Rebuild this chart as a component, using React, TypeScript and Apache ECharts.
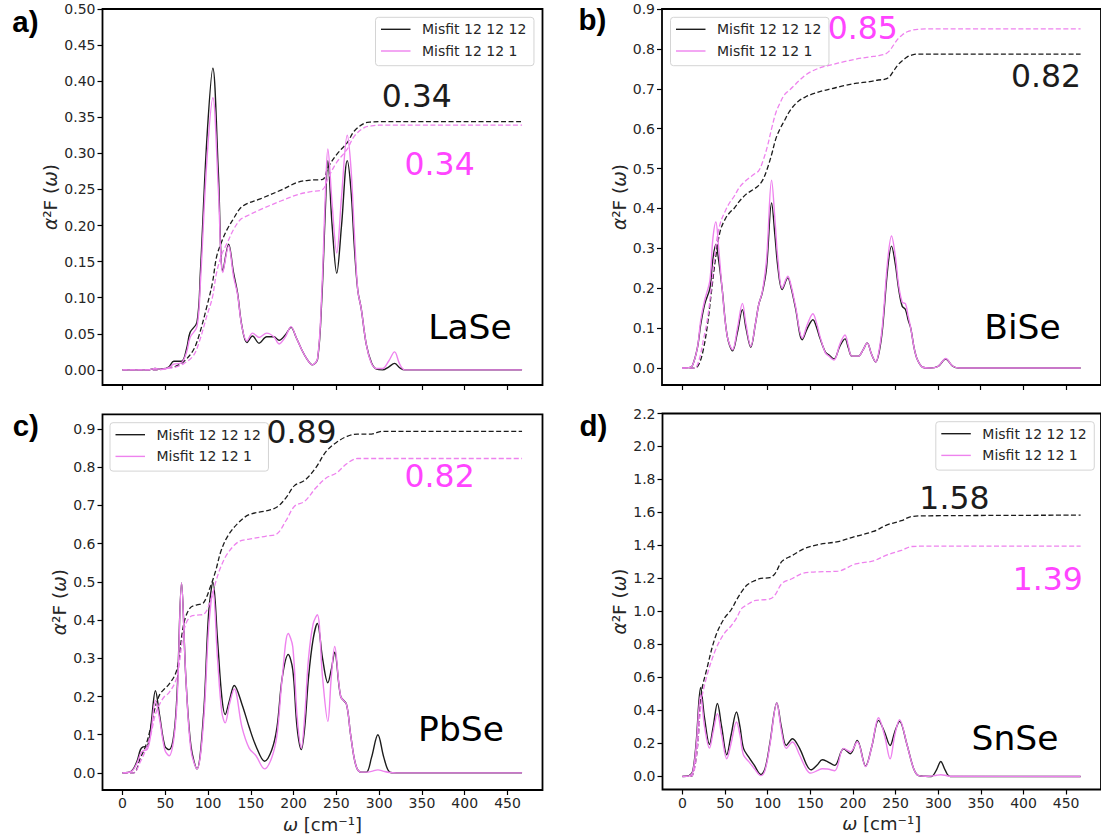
import React, { useEffect, useRef } from "react";
import * as echarts from "echarts";

// ---------- tick labels ----------
const X_TICKS = [0, 50, 100, 150, 200, 250, 300, 350, 400, 450];
const A_Y_TICKS = [0, 0.05, 0.1, 0.15, 0.2, 0.25, 0.3, 0.35, 0.4, 0.45, 0.5];
const B_Y_TICKS = [0, 0.1, 0.2, 0.3, 0.4, 0.5, 0.6, 0.7, 0.8, 0.9];
const C_Y_TICKS = [0, 0.1, 0.2, 0.3, 0.4, 0.5, 0.6, 0.7, 0.8, 0.9];
const D_Y_TICKS = [0, 0.2, 0.4, 0.6, 0.8, 1.0, 1.2, 1.4, 1.6, 1.8, 2.0, 2.2];

const LEGEND_NAMES = ["Misfit 12 12 12", "Misfit 12 12 1"];

// ---------- a) LaSe ----------
const aSpecX = [0, 30, 38, 46, 54, 60, 69, 75, 79, 87, 91, 98.6, 105.6, 112, 117.3, 124, 129.7, 134.4, 139.5, 145.4, 152, 159.6, 168.6, 176.8, 183, 190, 197, 203, 209.5, 215.6, 221.8, 228, 233, 237, 240, 245, 250.4, 256, 262.7, 267, 271, 275, 279, 285, 291, 297, 304, 311, 318, 324, 330, 467];
const aSpecBlack = [0, 0, 0.002, 0.001, 0.004, 0.012, 0.012, 0.03, 0.052, 0.066, 0.135, 0.32, 0.418, 0.274, 0.137, 0.174, 0.135, 0.107, 0.061, 0.038, 0.047, 0.037, 0.046, 0.046, 0.041, 0.048, 0.059, 0.045, 0.028, 0.015, 0.007, 0.015, 0.1, 0.22, 0.29, 0.2, 0.134, 0.2, 0.29, 0.25, 0.17, 0.11, 0.085, 0.035, 0.01, 0.001, 0, 0.004, 0.009, 0.003, 0, 0];
const aSpecPink = [0, 0, 0.002, 0.001, 0.003, 0.008, 0.01, 0.025, 0.045, 0.06, 0.12, 0.29, 0.377, 0.25, 0.135, 0.172, 0.13, 0.105, 0.06, 0.04, 0.051, 0.045, 0.051, 0.046, 0.036, 0.045, 0.06, 0.045, 0.028, 0.015, 0.007, 0.016, 0.11, 0.24, 0.306, 0.23, 0.162, 0.24, 0.325, 0.28, 0.19, 0.11, 0.085, 0.035, 0.009, 0.002, 0.002, 0.012, 0.025, 0.008, 0, 0];
const aCumX = [0, 40, 52, 62, 72, 83, 90, 98.6, 105, 110, 116, 122, 130, 137.6, 145, 161, 185, 205, 220, 234, 240, 250, 262.7, 271, 283, 291, 300, 467];
const aCumBlack = [0, 0, 0.003, 0.005, 0.012, 0.028, 0.05, 0.088, 0.12, 0.157, 0.178, 0.194, 0.21, 0.224, 0.23, 0.237, 0.249, 0.26, 0.263, 0.264, 0.28, 0.298, 0.315, 0.331, 0.342, 0.3435, 0.344, 0.344];
const aCumPink = [0, 0, 0.002, 0.004, 0.009, 0.02, 0.04, 0.075, 0.1, 0.135, 0.16, 0.175, 0.195, 0.208, 0.213, 0.222, 0.234, 0.243, 0.247, 0.25, 0.265, 0.287, 0.306, 0.324, 0.336, 0.338, 0.339, 0.339];

// ---------- b) BiSe ----------
const bSpecX = [0, 8, 12, 18, 22, 26.6, 32.7, 36, 39.7, 43, 47, 53, 59.3, 65, 70.8, 75, 80.6, 86, 90, 94, 99, 105, 109, 112.5, 117.4, 124, 128, 133, 141, 147, 153.4, 158, 161.6, 168, 172, 178, 185, 191, 195, 199, 206.6, 212, 217, 222, 227, 231, 235, 241, 245.5, 250, 253.7, 258, 261.8, 265, 268, 272, 276, 282, 290, 300, 309, 317, 325, 467];
const bSpecBlack = [0, 0.001, 0.005, 0.05, 0.11, 0.16, 0.2, 0.27, 0.31, 0.27, 0.2, 0.08, 0.0435, 0.09, 0.1465, 0.1, 0.052, 0.11, 0.16, 0.188, 0.25, 0.414, 0.33, 0.25, 0.197, 0.226, 0.2, 0.15, 0.071, 0.1, 0.121, 0.1, 0.075, 0.04, 0.033, 0.0226, 0.055, 0.073, 0.05, 0.03, 0.03, 0.045, 0.063, 0.035, 0.015, 0.04, 0.1, 0.25, 0.3056, 0.26, 0.2, 0.155, 0.147, 0.12, 0.1, 0.05, 0.02, 0.002, 0, 0.004, 0.0226, 0.005, 0, 0];
const bSpecPink = [0, 0.001, 0.005, 0.05, 0.12, 0.17, 0.22, 0.32, 0.366, 0.3, 0.2, 0.08, 0.046, 0.1, 0.162, 0.11, 0.054, 0.11, 0.16, 0.19, 0.27, 0.471, 0.37, 0.27, 0.2, 0.23, 0.205, 0.155, 0.075, 0.11, 0.136, 0.11, 0.08, 0.038, 0.03, 0.02, 0.06, 0.083, 0.055, 0.03, 0.03, 0.045, 0.063, 0.035, 0.015, 0.045, 0.11, 0.27, 0.331, 0.28, 0.21, 0.165, 0.161, 0.13, 0.1, 0.05, 0.02, 0.002, 0, 0.004, 0.024, 0.005, 0, 0];
const bCumX = [0, 10, 15, 20, 25, 30, 35, 40, 45, 51, 56, 61, 68, 76, 84, 90, 95, 100, 105, 110, 115, 120, 125, 130, 137, 145, 153, 165, 175, 190, 205, 220, 230, 238, 243, 248, 253, 258, 264, 270, 276, 285, 300, 467];
const bCumBlack = [0, 0, 0, 0.01, 0.046, 0.11, 0.2, 0.285, 0.345, 0.375, 0.39, 0.4, 0.42, 0.437, 0.448, 0.458, 0.473, 0.5, 0.535, 0.575, 0.6, 0.62, 0.64, 0.655, 0.67, 0.68, 0.687, 0.695, 0.7, 0.708, 0.714, 0.718, 0.722, 0.724, 0.73, 0.745, 0.76, 0.77, 0.78, 0.785, 0.787, 0.787, 0.787, 0.787];
const bCumPink = [0, 0, 0, 0.02, 0.07, 0.125, 0.213, 0.31, 0.364, 0.395, 0.415, 0.43, 0.455, 0.472, 0.485, 0.495, 0.52, 0.555, 0.6, 0.64, 0.665, 0.685, 0.695, 0.705, 0.72, 0.735, 0.745, 0.755, 0.76, 0.768, 0.775, 0.78, 0.783, 0.787, 0.795, 0.81, 0.825, 0.835, 0.843, 0.847, 0.849, 0.85, 0.85, 0.85];

// ---------- c) PbSe ----------
const cSpecX = [0, 10.6, 16.8, 21, 24, 29, 33, 38.5, 43.4, 49.5, 54.5, 60, 64, 69, 74, 80, 87, 94.6, 100.7, 105.7, 111, 116, 120, 125, 130.6, 139.6, 148, 156, 166, 174.4, 180.6, 186.7, 193.7, 199, 204, 209, 213, 217.4, 222.8, 227.7, 233.8, 240, 244, 248, 255, 261.7, 266.6, 272.7, 278.9, 285, 291, 298.5, 305.5, 312.4, 320, 467];
const cSpecBlack = [0, 0.005, 0.03, 0.061, 0.068, 0.07, 0.12, 0.215, 0.15, 0.07, 0.061, 0.1, 0.22, 0.497, 0.25, 0.07, 0.0105, 0.15, 0.42, 0.499, 0.35, 0.2, 0.153, 0.19, 0.229, 0.18, 0.12, 0.07, 0.0305, 0.06, 0.12, 0.25, 0.31, 0.27, 0.12, 0.061, 0.12, 0.25, 0.35, 0.391, 0.3, 0.236, 0.27, 0.316, 0.2, 0.18, 0.1, 0.02, 0.002, 0.002, 0.04, 0.1, 0.04, 0.002, 0, 0];
const cSpecPink = [0, 0.004, 0.025, 0.05, 0.058, 0.062, 0.1, 0.19, 0.14, 0.06, 0.045, 0.09, 0.2, 0.497, 0.25, 0.06, 0.0105, 0.13, 0.38, 0.475, 0.3, 0.16, 0.131, 0.18, 0.22, 0.12, 0.065, 0.045, 0.0105, 0.04, 0.1, 0.25, 0.365, 0.33, 0.15, 0.065, 0.15, 0.3, 0.39, 0.414, 0.25, 0.135, 0.25, 0.331, 0.2, 0.18, 0.1, 0.02, 0.002, 0.002, 0.004, 0.008, 0.004, 0.001, 0, 0];
const cCumX = [0, 12.7, 21, 27, 33, 38, 43.4, 49, 54, 62, 66, 70, 74, 80, 87, 94.6, 102.8, 109, 115, 123, 135.5, 148, 168, 180.6, 191, 201, 213, 225.6, 238, 250, 262.5, 274.8, 291, 303, 467];
const cCumBlack = [0, 0, 0.04, 0.07, 0.12, 0.17, 0.205, 0.22, 0.231, 0.26, 0.3, 0.37, 0.41, 0.434, 0.44, 0.445, 0.488, 0.53, 0.58, 0.62, 0.655, 0.676, 0.686, 0.696, 0.72, 0.752, 0.766, 0.798, 0.8415, 0.865, 0.881, 0.887, 0.887, 0.894, 0.894];
const cCumPink = [0, 0, 0.03, 0.06, 0.1, 0.15, 0.18, 0.2, 0.209, 0.24, 0.28, 0.35, 0.39, 0.41, 0.413, 0.415, 0.45, 0.5, 0.54, 0.575, 0.605, 0.612, 0.62, 0.626, 0.66, 0.698, 0.711, 0.745, 0.772, 0.785, 0.81, 0.823, 0.823, 0.823, 0.823];

// ---------- d) SnSe ----------
const dSpecX = [0, 7.8, 12, 16, 21.4, 26, 31.7, 36, 41, 46, 52, 57, 63.4, 67.5, 71.6, 77.8, 84, 92, 97, 102.5, 110.7, 116, 121.8, 129, 137.4, 145.7, 150.6, 158, 164, 170, 178.6, 189, 197, 205, 214.8, 222, 230, 237, 243.6, 249, 254.7, 263, 271, 277, 285, 292, 298, 303, 308, 314, 467];
const dSpecBlack = [0, 0.005, 0.03, 0.2, 0.539, 0.35, 0.194, 0.3, 0.442, 0.3, 0.132, 0.25, 0.391, 0.3, 0.17, 0.117, 0.07, 0.012, 0.05, 0.2, 0.446, 0.3, 0.188, 0.229, 0.17, 0.07, 0.0405, 0.07, 0.101, 0.09, 0.067, 0.168, 0.138, 0.219, 0.063, 0.18, 0.34, 0.27, 0.188, 0.27, 0.334, 0.2, 0.05, 0.005, 0.001, 0, 0.04, 0.091, 0.04, 0, 0];
const dSpecPink = [0, 0.004, 0.025, 0.18, 0.492, 0.3, 0.172, 0.27, 0.381, 0.25, 0.107, 0.2, 0.33, 0.25, 0.13, 0.09, 0.05, 0.005, 0.04, 0.19, 0.446, 0.28, 0.17, 0.209, 0.13, 0.04, 0.02, 0.035, 0.0466, 0.045, 0.035, 0.17, 0.15, 0.21, 0.06, 0.18, 0.356, 0.25, 0.107, 0.25, 0.344, 0.2, 0.05, 0.005, 0.001, 0.002, 0.007, 0.01, 0.007, 0.001, 0];
const dCumX = [0, 10, 14, 18, 22, 28.4, 38.7, 49, 57, 63.4, 69.5, 75.7, 84, 92, 102.5, 108.6, 116.9, 129, 141.6, 158, 182.7, 203, 224, 240, 256.8, 269, 290, 467];
const dCumBlack = [0, 0, 0.05, 0.2, 0.5, 0.648, 0.847, 0.958, 1.009, 1.07, 1.12, 1.16, 1.185, 1.2, 1.205, 1.23, 1.305, 1.34, 1.378, 1.404, 1.424, 1.455, 1.485, 1.525, 1.55, 1.576, 1.58, 1.584];
const dCumPink = [0, 0, 0.04, 0.2, 0.45, 0.604, 0.766, 0.867, 0.912, 0.96, 1.019, 1.04, 1.065, 1.07, 1.076, 1.1, 1.171, 1.2, 1.232, 1.24, 1.245, 1.288, 1.307, 1.343, 1.37, 1.394, 1.396, 1.396];

// ---------- annotations ----------
const aNotes = ["0.34", "0.34", "LaSe"];
const bNotes = ["0.85", "0.82", "BiSe"];
const cNotes = ["0.89", "0.82", "PbSe"];
const dNotes = ["1.58", "1.39", "SnSe"];
const PANEL_LETTERS = ["a)", "b)", "c)", "d)"];

const BLACK = "#1c1c1c";
const PINK = "#ee82ee";
const MAGENTA = "#ff45ff";
const FONT = "DejaVu Sans";

const zip = (xs: number[], ys: number[]) => xs.map((x, i) => [x, ys[i]]);

const panels = [
  {
    grid: { left: 102.5, top: 9, width: 440, height: 376 },
    yMin: -0.0209, yMax: 0.5, yTicks: A_Y_TICKS, dec: 2, showX: false, nameGap: 35,
    spec: [aSpecX, aSpecBlack, aSpecPink], cum: [aCumX, aCumBlack, aCumPink],
    legend: { left: 375.5, top: 17.3 },
    notes: aNotes,
    notePos: [[416.8, 96, BLACK, 31.5], [439.6, 164, MAGENTA, 31.5], [470, 327, "#000", 34.5]],
    letterPos: [25.4, 21.7],
  },
  {
    grid: { left: 662, top: 9, width: 441, height: 376 },
    yMin: -0.0425, yMax: 0.9, yTicks: B_Y_TICKS, dec: 1, showX: false, nameGap: 31,
    spec: [bSpecX, bSpecBlack, bSpecPink], cum: [bCumX, bCumBlack, bCumPink],
    legend: { left: 670.5, top: 17.3 },
    notes: bNotes,
    notePos: [[862.8, 28, MAGENTA, 31.5], [1046, 76, BLACK, 31.5], [1022.5, 327, "#000", 34.5]],
    letterPos: [592.5, 19.2],
  },
  {
    grid: { left: 102.5, top: 414.3, width: 440, height: 375.7 },
    yMin: -0.0447, yMax: 0.9387, yTicks: C_Y_TICKS, dec: 1, showX: true, nameGap: 28.5,
    spec: [cSpecX, cSpecBlack, cSpecPink], cum: [cCumX, cCumBlack, cCumPink],
    legend: { left: 110, top: 422.7 },
    notes: cNotes,
    notePos: [[301.5, 432, BLACK, 31.5], [439.6, 476, MAGENTA, 31.5], [461, 729, "#000", 34.5]],
    letterPos: [25.8, 425],
  },
  {
    grid: { left: 662.5, top: 413.5, width: 441, height: 376 },
    yMin: -0.079, yMax: 2.2, yTicks: D_Y_TICKS, dec: 1, showX: true, nameGap: 26.5,
    spec: [dSpecX, dSpecBlack, dSpecPink], cum: [dCumX, dCumBlack, dCumPink],
    legend: { left: 935.8, top: 421.7 },
    notes: dNotes,
    notePos: [[954.4, 497.5, BLACK, 31.5], [1047.7, 579, MAGENTA, 31.5], [1015, 737.7, "#000", 34.5]],
    letterPos: [593.4, 425],
  },
];

function buildOption() {
  const grid: any[] = [];
  const xAxis: any[] = [];
  const yAxis: any[] = [];
  const series: any[] = [];
  const legend: any[] = [];
  const graphic: any[] = [];

  panels.forEach((p, i) => {
    grid.push({
      ...p.grid,
      show: true,
      borderColor: "#000",
      borderWidth: 1.8,
      backgroundColor: "transparent",
    });
    xAxis.push({
      type: "value",
      gridIndex: i,
      position: "bottom",
      min: -23.4,
      max: 490.9,
      axisLine: { show: false, onZero: false },
      splitLine: { show: false },
      axisTick: {
        show: true,
        length: 5,
        customValues: X_TICKS,
        lineStyle: { color: "#000", width: 1.2 },
      },
      axisLabel: {
        show: p.showX,
        customValues: X_TICKS,
        margin: 6,
        fontFamily: FONT,
        fontSize: 14,
        color: "#262626",
      },
      name: p.showX ? "{i|ω} [cm⁻¹]" : "",
      nameLocation: "middle",
      nameGap: 25,
      nameTextStyle: {
        fontFamily: FONT,
        fontSize: 18,
        color: "#262626",
        rich: { i: { fontFamily: FONT, fontStyle: "italic", fontSize: 18, color: "#262626" } },
      },
    });
    yAxis.push({
      type: "value",
      gridIndex: i,
      position: "left",
      min: p.yMin,
      max: p.yMax,
      axisLine: { show: false, onZero: false },
      splitLine: { show: false },
      axisTick: {
        show: true,
        length: 5,
        customValues: p.yTicks,
        lineStyle: { color: "#000", width: 1.2 },
      },
      axisLabel: {
        customValues: p.yTicks,
        margin: 7,
        fontFamily: FONT,
        fontSize: 14,
        color: "#262626",
        formatter: (v: number) => v.toFixed(p.dec),
      },
      name: "{i|α}²F ({i|ω})",
      nameLocation: "middle",
      nameGap: p.nameGap,
      nameTextStyle: {
        fontFamily: FONT,
        fontSize: 18.5,
        color: "#262626",
        rich: { i: { fontFamily: FONT, fontStyle: "italic", fontSize: 18.5, color: "#262626" } },
      },
    });

    const [sx, sb, sp] = p.spec;
    const [cx, cb, cp] = p.cum;
    const common = {
      type: "line",
      xAxisIndex: i,
      yAxisIndex: i,
      symbol: "none",
      smooth: 0.35,
      silent: true,
    };
    series.push({ ...common, name: LEGEND_NAMES[0], data: zip(sx, sb), lineStyle: { color: BLACK, width: 1.4 }, itemStyle: { color: BLACK }, z: 3 });
    series.push({ ...common, name: LEGEND_NAMES[1], data: zip(sx, sp), lineStyle: { color: PINK, width: 1.4 }, itemStyle: { color: PINK }, z: 4 });
    series.push({ ...common, name: "cum 12 12 12 " + i, data: zip(cx, cb), lineStyle: { color: BLACK, width: 1.3, type: [5, 2.5] }, itemStyle: { color: BLACK }, z: 3 });
    series.push({ ...common, name: "cum 12 12 1 " + i, data: zip(cx, cp), lineStyle: { color: PINK, width: 1.3, type: [5, 2.5] }, itemStyle: { color: PINK }, z: 4 });

    legend.push({
      show: true,
      data: LEGEND_NAMES,
      icon: "rect",
      orient: "vertical",
      left: p.legend.left,
      top: p.legend.top,
      padding: [5, 7.6, 7.7, 5.5],
      itemGap: 7.7,
      itemWidth: 29.5,
      itemHeight: 1.4,
      selectedMode: false,
      backgroundColor: "rgba(255,255,255,0.8)",
      borderColor: "#d4d4d4",
      borderWidth: 1,
      borderRadius: 3,
      textStyle: {
        fontFamily: FONT,
        fontSize: 14,
        lineHeight: 14,
        color: "#262626",
        padding: [0, 0, 0, 6.5],
      },
    });

    p.notes.forEach((t, k) => {
      const [x, y, color, size] = p.notePos[k] as any;
      graphic.push({
        type: "text",
        x,
        y,
        silent: true,
        z: 10,
        style: {
          text: t,
          fill: color,
          fontFamily: FONT,
          fontSize: size,
          textAlign: "center",
          textVerticalAlign: "middle",
        },
      });
    });
    graphic.push({
      type: "text",
      x: p.letterPos[0],
      y: p.letterPos[1],
      silent: true,
      style: {
        text: PANEL_LETTERS[i],
        fill: "#000",
        fontFamily: "Liberation Sans",
        fontWeight: "bold",
        fontSize: 29.5,
        textAlign: "center",
        textVerticalAlign: "middle",
      },
    });
  });

  return {
    animation: false,
    backgroundColor: "#fff",
    grid,
    xAxis,
    yAxis,
    series,
    legend,
    graphic,
  };
}

export default function App() {
  const ref = useRef<HTMLDivElement>(null);
  useEffect(() => {
    if (!ref.current) return;
    const chart = echarts.init(ref.current, undefined, { renderer: "svg" });
    chart.setOption(buildOption() as any);
    return () => chart.dispose();
  }, []);
  return (
    <div
      ref={ref}
      style={{ position: "fixed", left: 0, top: 0, width: 1101, height: 839, background: "#fff" }}
    />
  );
}
